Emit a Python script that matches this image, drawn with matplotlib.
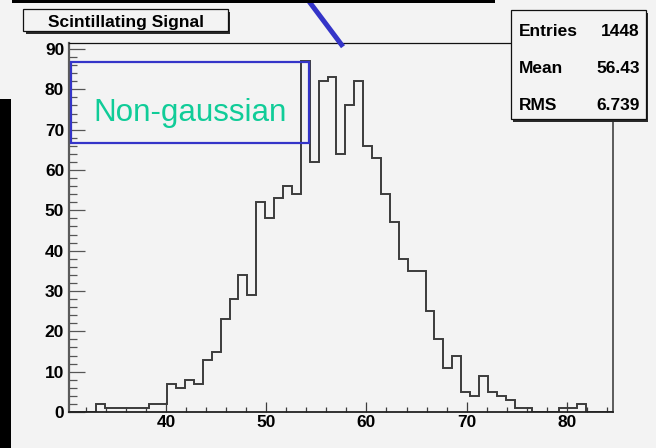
import numpy as np
import matplotlib
matplotlib.use("Agg")
import matplotlib.pyplot as plt
from matplotlib.patches import Rectangle
from matplotlib.lines import Line2D
from matplotlib.ticker import MultipleLocator

# ---- data ----
bin_low = 30.3
bin_width = 0.89
counts = [0, 0, 0, 2, 1, 1, 1, 1, 1, 2, 2,
          7, 6, 8, 7, 13, 15, 23, 28, 34, 29,
          52, 48, 53, 56, 54, 87, 62, 82, 83, 64,
          76, 82, 66, 63, 54, 47, 38, 35, 35, 25,
          18, 11, 14, 5, 4, 9, 5, 4, 3, 1,
          1, 0, 0, 0, 1, 1, 2, 0, 0, 0]
title = "Scintillating Signal"
stat_names = ["Entries", "Mean", "RMS"]
stat_values = ["1448", "56.43", "6.739"]
annotation = "Non-gaussian"
x_ticks = [40, 50, 60, 70, 80]
y_ticks = [0, 10, 20, 30, 40, 50, 60, 70, 80, 90]

W, H = 656, 448
BG = "#f3f3f3"
LINE = "#3c3c3c"
BLUE = "#3434c8"
GREEN = "#10cc98"

fig = plt.figure(figsize=(W / 100, H / 100), dpi=100, facecolor=BG)


def fx(x):
    return x / W


def fy(y):
    return 1 - y / H


left, right, bottom, top = 69, 612.5, 412, 42.7
ax = fig.add_axes([fx(left), fy(bottom), fx(right) - fx(left), fy(top) - fy(bottom)])
ax.set_facecolor(BG)

edges = bin_low + bin_width * np.arange(len(counts) + 1)
ax.stairs(counts, edges, color=LINE, lw=1.4, baseline=0)
ax.set_xlim(30.28, 84.58)
ax.set_ylim(0, 91.57)

ax.set_xticks(x_ticks)
ax.set_yticks(y_ticks)
ax.xaxis.set_minor_locator(MultipleLocator(2))
ax.yaxis.set_minor_locator(MultipleLocator(2))
bold = dict(family="Liberation Sans", weight="bold", size=12.5)
ax.set_xticklabels([str(t) for t in x_ticks], **bold)
ax.set_yticklabels([str(t) for t in y_ticks], **bold)
ax.tick_params(axis="x", which="major", direction="in", length=7.4, width=0.9,
               color=LINE, pad=2.0)
ax.tick_params(axis="x", which="minor", direction="in", length=3.8, width=0.9, color=LINE)
ax.tick_params(axis="y", which="major", direction="in", length=11.5, width=0.9,
               color="#555555", pad=3.5)
ax.tick_params(axis="y", which="minor", direction="in", length=5.8, width=0.9, color="#555555")
ax.spines["left"].set_color("#5a5a5a")
ax.spines["left"].set_linewidth(1.6)
ax.spines["bottom"].set_color("#222222")
ax.spines["bottom"].set_linewidth(1.3)
ax.spines["top"].set_color("#111111")
ax.spines["top"].set_linewidth(0.9)
ax.spines["right"].set_color("#333333")
ax.spines["right"].set_linewidth(1.1)


def box(x0, y0, x1, y1, shadow=2.5, z=10):
    sh = Rectangle((fx(x0 + shadow), fy(y1 + shadow)), fx(x1 - x0), (y1 - y0) / H,
                   transform=fig.transFigure, facecolor="#2a2a2a", edgecolor="none",
                   zorder=z)
    bx = Rectangle((fx(x0), fy(y1)), fx(x1 - x0), (y1 - y0) / H,
                   transform=fig.transFigure, facecolor=BG, edgecolor="#111111",
                   lw=0.9, zorder=z + 1)
    fig.add_artist(sh)
    fig.add_artist(bx)


# title box
box(23.3, 9.3, 227.5, 31.5, shadow=2.5)
fig.text(fx(125.5), fy(26.5), title, ha="center", va="baseline", zorder=20, **bold)

# stats box
box(510.7, 10.3, 645.5, 119.5, shadow=2.5)
row_y = [35.7, 72.7, 110.0]
for name, val, yy in zip(stat_names, stat_values, row_y):
    fig.text(fx(519), fy(yy), name, ha="left", va="baseline", zorder=20, **bold)
    fig.text(fx(640), fy(yy), val, ha="right", va="baseline", zorder=20, **bold)

# blue annotation rectangle and text
rect = Rectangle((fx(71.3), fy(143.3)), fx(309.3 - 71.3), (143.3 - 62.3) / H,
                 transform=fig.transFigure, facecolor="none", edgecolor=BLUE,
                 lw=1.6, zorder=15)
fig.add_artist(rect)
fig.text(fx(189.7), fy(120.7), annotation, ha="center", va="baseline",
         family="Liberation Sans", size=22.6, color=GREEN, zorder=16)

# blue diagonal line
fig.add_artist(Line2D([fx(306.5), fx(343)], [fy(-2), fy(46.7)], transform=fig.transFigure,
                      color=BLUE, lw=3.6, solid_capstyle="butt", zorder=15))

# black bars at edges
fig.add_artist(Rectangle((0, fy(H)), fx(11), (H - 99) / H, transform=fig.transFigure,
                         facecolor="black", edgecolor="none", zorder=30))
fig.add_artist(Rectangle((fx(12), fy(3)), fx(495 - 12), 3 / H, transform=fig.transFigure,
                         facecolor="black", edgecolor="none", zorder=30))

fig.savefig("out.png", dpi=100, facecolor=BG)
